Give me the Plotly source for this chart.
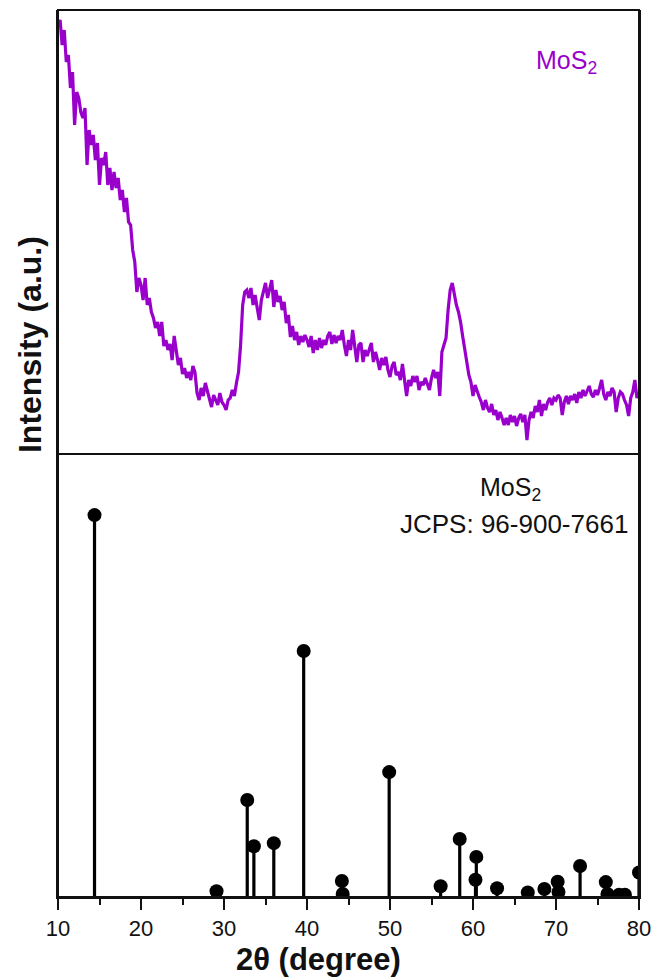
import plotly.graph_objects as go

# ---------------- data ----------------
# measured XRD pattern (2theta in degrees, 0.25 deg step) - arbitrary intensity units
two_theta = [10.0 + 0.25 * i for i in range(281)]
intensity = [
    429, 434, 409, 424,  392, 399, 366, 382,  329, 362, 356, 342,  336, 346, 289, 324,
    309, 319, 294, 311,  269, 296, 289, 302,  269, 286, 264, 282,  266, 276, 254, 264,
    242, 256, 232, 229,  204, 192, 162, 176,  169, 154, 176, 149,  156, 142, 136, 126,
    132, 118, 132, 108,  114, 104, 110, 94,   118, 102, 89, 96,    80, 86, 76, 82,
    74, 88, 82, 61,      54, 66, 58, 71,      62, 54, 47, 59,      54, 49, 61, 52,
    49, 44, 54, 56,      64, 58, 71, 82,      109, 149, 162, 164,  156, 166, 149, 159,
    146, 134, 154, 162,  171, 156, 164, 174,  147, 164, 152, 158,  144, 152, 131, 139,
    117, 128, 114, 122,  109, 118, 112, 119,  114, 107, 118, 101,  114, 104, 116, 106,
    114, 109, 118, 122,  110, 119, 111, 118,  114, 124, 109, 98,   114, 104, 124, 109,
    92, 109, 111, 92,    104, 98, 106, 111,   92, 102, 94, 84,     96, 89, 97, 84,
    77, 88, 92, 79,      82, 74, 90, 76,      58, 74, 68, 78,      72, 78, 64, 72,
    69, 76, 70, 64,      76, 84, 76, 82,      58, 102, 109, 116,   144, 164, 171, 158,
    149, 142, 132, 118,  106, 92, 79, 72,     58, 69, 62, 57,      52, 44, 54, 46,
    42, 50, 39, 44,      34, 42, 36, 29,      36, 29, 39, 32,      38, 28, 36, 40,
    32, 39, 14, 34,      42, 36, 48, 42,      54, 38, 50, 44,      52, 56, 49, 56,
    54, 59, 56, 39,      52, 58, 50, 58,      54, 60, 51, 62,      56, 64, 58, 64,
    68, 60, 57, 64,      59, 66, 74, 60,      54, 62, 58, 66,      62, 42, 56, 62,
    60, 54, 49, 38,      56, 62, 74, 56,      62,
]

# reference pattern MoS2, JCPDS 96-900-7661 (relative intensity, %)
ref_2theta = [14.4, 29.1, 32.8, 33.6, 36.0, 39.6, 44.2, 44.3, 49.9, 56.1, 58.4,
              60.3, 60.4, 62.9, 66.6, 68.6, 70.2, 70.3, 72.9, 76.0, 76.2, 77.6,
              78.3, 80.0]
ref_intensity = [100, 1.5, 25.4, 13.3, 14.1, 64.4, 4.2, 0.8, 32.7, 2.8, 15.2,
                 4.5, 10.5, 2.3, 1.2, 2.1, 4.0, 1.3, 8.1, 3.9, 0.8, 0.6,
                 0.6, 6.4]

x_ticks = [10, 20, 30, 40, 50, 60, 70, 80]

PURPLE = "#9a00cc"
FONT = "Liberation Sans, Arial, sans-serif"
DOMAIN_SPLIT = 443 / 887

fig = go.Figure()

fig.add_trace(go.Scatter(
    x=two_theta, y=intensity, mode="lines",
    line=dict(color=PURPLE, width=3.2),
    xaxis="x2", yaxis="y2", showlegend=False, hoverinfo="x+y",
))

fig.add_trace(go.Scatter(
    x=ref_2theta, y=ref_intensity, mode="markers",
    marker=dict(color="black", size=14),
    error_y=dict(type="data", symmetric=False, array=[0] * len(ref_intensity),
                 arrayminus=ref_intensity, color="black", thickness=3.2, width=0),
    xaxis="x", yaxis="y", showlegend=False,
))

fig.update_layout(
    width=657, height=980,
    margin=dict(l=58, r=18, t=10, b=83, autoexpand=False),
    paper_bgcolor="white", plot_bgcolor="white",
    font=dict(family=FONT, color="black"),
    xaxis=dict(
        domain=[0, 1], anchor="y", range=[10, 80], automargin=False,
        tickmode="array", tickvals=x_ticks, ticktext=[str(v) for v in x_ticks],
        ticks="outside", ticklen=11, tickwidth=2, tickcolor="#111",
        showline=True, linewidth=2, linecolor="#111",
        showgrid=False, zeroline=False,
        tickfont=dict(size=22, family=FONT, color="#111"),
        minor=dict(dtick=5, tick0=10, ticks="outside", ticklen=6, tickwidth=2, tickcolor="#111", showgrid=False),
    ),
    xaxis2=dict(
        domain=[0, 1], anchor="y2", range=[10, 80], matches="x", automargin=False,
        showticklabels=False, ticks="", showgrid=False, zeroline=False, showline=False,
    ),
    yaxis=dict(
        domain=[0, DOMAIN_SPLIT], anchor="x", range=[0, 116], automargin=False,
        showticklabels=False, ticks="", showgrid=False, zeroline=False,
        showline=True, linewidth=2, linecolor="#111", mirror=True,
    ),
    yaxis2=dict(
        domain=[DOMAIN_SPLIT, 1], anchor="x2", range=[0, 444], automargin=False,
        showticklabels=False, ticks="", showgrid=False, zeroline=False,
        showline=True, linewidth=2, linecolor="#111", mirror=True,
    ),
)

# frame of the stacked panels
fig.add_shape(type="rect", xref="paper", yref="paper", x0=0, x1=1, y0=0, y1=1,
              line=dict(color="#111", width=2), layer="above")
fig.add_shape(type="line", xref="paper", yref="paper", x0=0, x1=1,
              y0=DOMAIN_SPLIT, y1=DOMAIN_SPLIT, line=dict(color="#111", width=2), layer="above")

# annotations
fig.add_annotation(text="MoS<sub>2</sub>", xref="paper", yref="paper", x=0.876, y=0.941,
                   xanchor="center", yanchor="middle",
                   showarrow=False, font=dict(size=25, color=PURPLE, family=FONT))
fig.add_annotation(text="MoS<sub>2</sub>", xref="paper", yref="paper", x=0.778, y=0.460,
                   xanchor="center", yanchor="middle",
                   showarrow=False, font=dict(size=25, color="#111", family=FONT))
fig.add_annotation(text="JCPS: 96-900-7661", xref="paper", yref="paper", x=0.785, y=0.4205,
                   xanchor="center", yanchor="middle",
                   showarrow=False, font=dict(size=26, color="#111", family=FONT))
fig.add_annotation(text="Intensity (a.u.)", xref="paper", yref="paper", x=-0.0482, y=0.6234,
                   textangle=-90, showarrow=False, xanchor="center", yanchor="middle",
                   font=dict(size=32, color="#111", family=FONT, weight="bold"))
fig.add_annotation(text="2θ (degree)", xref="paper", yref="paper", x=0.449, y=-0.071,
                   showarrow=False, xanchor="center", yanchor="middle",
                   font=dict(size=31, color="#111", family=FONT, weight="bold"))

fig.write_html("out.html")
